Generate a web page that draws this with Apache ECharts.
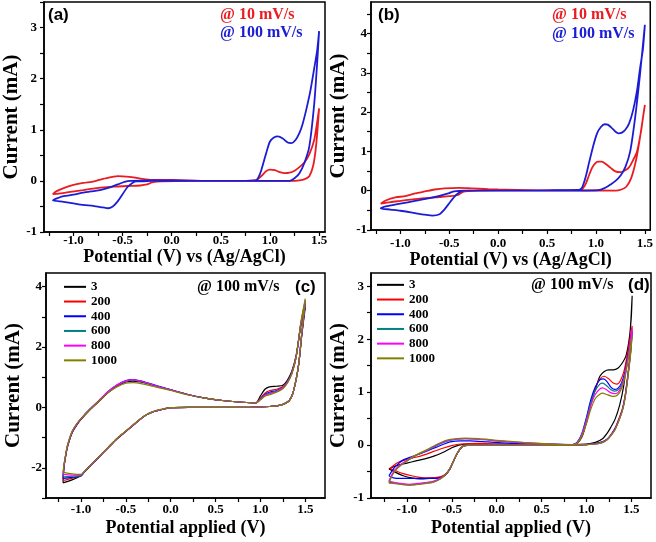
<!DOCTYPE html>
<html><head><meta charset="utf-8">
<script src="https://cdn.jsdelivr.net/npm/echarts@6/dist/echarts.min.js"></script>
<style>html,body{margin:0;padding:0;background:#fff}#c{width:656px;height:542px}</style>
</head><body><div id="c"></div>
<script>
// ---------- tick / label values ----------
const xTickVals = [-1.25,-1.0,-0.75,-0.5,-0.25,0.0,0.25,0.5,0.75,1.0,1.25,1.5];
const xLabelVals = [-1.0,-0.5,0.0,0.5,1.0,1.5];
const yTickA = [-1,-0.5,0,0.5,1,1.5,2,2.5,3,3.5];
const yLabelA = [-1,0,1,2,3];
const yTickB = [-1,-0.5,0,0.5,1,1.5,2,2.5,3,3.5,4,4.5];
const yLabelB = [-1,0,1,2,3,4];
const yTickC = [-3,-2,-1,0,1,2,3,4];
const yLabelC = [-2,0,2,4];
const yTickD = [-1,-0.5,0,0.5,1,1.5,2,2.5,3];
const yLabelD = [-1,0,1,2,3];

// ---------- series names ----------
const abNames = ['@ 10 mV/s','@ 100 mV/s'];
const cycleNames = ['3','200','400','600','800','1000'];

// ---------- panel (a) ----------
const aRed = [[0.0,0.02],[0.4,0.0],[0.8,0.0],[1.2,0.0],[1.3,0.01],[1.36,0.04],[1.4,0.09],[1.44,0.3],[1.47,0.7],[1.5,1.42],
 [1.48,1.15],[1.45,0.8],[1.4,0.52],[1.35,0.36],[1.3,0.27],[1.25,0.2],[1.2,0.16],[1.15,0.15],[1.1,0.17],[1.05,0.21],[1.0,0.22],[0.96,0.19],[0.92,0.11],[0.88,0.04],[0.85,0.01],[0.6,0.0],[0.2,0.0],[-0.1,-0.01],[-0.2,-0.03],[-0.25,-0.07],[-0.32,-0.09],[-0.45,-0.1],[-0.55,-0.11],[-0.66,-0.12],[-0.8,-0.15],[-0.9,-0.18],[-1.05,-0.22],[-1.15,-0.25],[-1.21,-0.26],
 [-1.18,-0.21],[-1.1,-0.14],[-1.0,-0.08],[-0.9,-0.04],[-0.79,-0.01],[-0.7,0.04],[-0.6,0.08],[-0.55,0.095],[-0.5,0.09],[-0.39,0.07],[-0.3,0.04],[-0.2,0.02],[-0.1,0.02],[0.0,0.02]];
const aBlue = [[0.0,0.01],[0.4,0.0],[0.8,0.0],[1.2,0.0],[1.25,0.05],[1.3,0.15],[1.35,0.35],[1.4,0.67],[1.45,1.5],[1.48,2.3],[1.5,2.93],
 [1.48,2.55],[1.45,2.2],[1.41,1.75],[1.37,1.4],[1.33,1.1],[1.3,0.94],[1.26,0.8],[1.22,0.74],[1.18,0.75],[1.13,0.83],[1.08,0.87],[1.04,0.85],[1.0,0.77],[0.97,0.6],[0.94,0.4],[0.91,0.2],[0.88,0.06],[0.86,0.01],[0.6,0.0],[0.2,0.0],[-0.2,0.0],[-0.3,-0.01],[-0.36,-0.01],[-0.4,-0.04],[-0.45,-0.12],[-0.5,-0.26],[-0.55,-0.4],[-0.6,-0.5],[-0.65,-0.535],[-0.7,-0.52],[-0.8,-0.49],[-0.9,-0.47],[-1.0,-0.44],[-1.1,-0.41],[-1.21,-0.38],
 [-1.15,-0.33],[-1.1,-0.3],[-1.0,-0.27],[-0.9,-0.23],[-0.8,-0.2],[-0.73,-0.18],[-0.62,-0.12],[-0.55,-0.07],[-0.48,-0.02],[-0.42,0.0],[-0.2,0.01],[0.0,0.01]];

// ---------- panel (b) ----------
const bRed = [[0.0,0.03],[0.4,0.01],[0.8,0.01],[1.2,0.0],[1.26,0.03],[1.31,0.1],[1.36,0.32],[1.41,0.78],[1.45,1.35],[1.5,2.18],
 [1.48,1.85],[1.46,1.5],[1.42,1.0],[1.38,0.78],[1.34,0.6],[1.3,0.52],[1.25,0.47],[1.2,0.49],[1.15,0.58],[1.1,0.68],[1.06,0.74],[1.02,0.74],[0.99,0.69],[0.96,0.58],[0.93,0.4],[0.9,0.2],[0.87,0.07],[0.84,0.02],[0.6,0.01],[0.2,0.01],[-0.2,0.0],[-0.3,-0.01],[-0.36,-0.03],[-0.41,-0.11],[-0.5,-0.14],[-0.6,-0.16],[-0.8,-0.2],[-1.0,-0.26],[-1.1,-0.29],[-1.2,-0.33],
 [-1.15,-0.25],[-1.05,-0.17],[-0.95,-0.14],[-0.85,-0.07],[-0.75,-0.02],[-0.65,0.03],[-0.55,0.06],[-0.4,0.07],[-0.28,0.06],[-0.1,0.04],[0.0,0.03]];
const bBlue = [[0.0,0.0],[0.5,0.0],[1.0,0.01],[1.05,0.03],[1.1,0.08],[1.15,0.16],[1.2,0.25],[1.25,0.38],[1.3,0.6],[1.35,1.0],[1.4,1.85],[1.45,2.95],[1.5,4.22],
 [1.48,3.6],[1.45,3.1],[1.42,2.55],[1.38,2.05],[1.34,1.72],[1.3,1.55],[1.26,1.47],[1.23,1.46],[1.2,1.5],[1.16,1.6],[1.12,1.68],[1.09,1.69],[1.05,1.62],[1.01,1.45],[0.97,1.12],[0.93,0.72],[0.9,0.4],[0.87,0.15],[0.85,0.05],[0.82,0.02],[0.5,0.01],[0.0,0.0],[-0.35,0.0],[-0.38,-0.02],[-0.43,-0.11],[-0.47,-0.22],[-0.5,-0.32],[-0.55,-0.48],[-0.6,-0.6],[-0.67,-0.635],[-0.75,-0.61],[-0.85,-0.57],[-1.0,-0.51],[-1.1,-0.48],[-1.2,-0.45],
 [-1.15,-0.4],[-1.0,-0.33],[-0.85,-0.26],[-0.7,-0.19],[-0.6,-0.13],[-0.5,-0.06],[-0.45,-0.02],[-0.35,0.0],[0.0,0.0]];

// ---------- panel (c) ----------
const c3 = [[-1.2,-2.5],[-1.19,-2.0],[-1.17,-1.6],[-1.15,-1.3],[-1.1,-0.85],[-1.05,-0.6],[-1.0,-0.4],[-0.9,-0.08],[-0.8,0.2],[-0.7,0.48],[-0.6,0.7],[-0.5,0.84],[-0.42,0.87],[-0.3,0.82],[-0.2,0.74],[-0.1,0.66],[0.0,0.58],[0.2,0.42],[0.4,0.3],[0.6,0.22],[0.8,0.17],[0.95,0.15],[1.0,0.38],[1.05,0.6],[1.1,0.68],[1.18,0.7],[1.25,0.73],[1.3,0.9],[1.35,1.2],[1.4,1.75],[1.45,2.7],[1.5,3.3],
 [1.48,2.85],[1.46,2.35],[1.43,1.5],[1.4,0.95],[1.36,0.45],[1.32,0.22],[1.26,0.11],[1.18,0.05],[1.1,0.03],[0.9,0.01],[0.5,0.0],[0.2,0.0],[0.0,-0.01],[-0.1,-0.07],[-0.2,-0.15],[-0.3,-0.3],[-0.4,-0.55],[-0.5,-0.8],[-0.6,-1.05],[-0.7,-1.35],[-0.8,-1.65],[-0.9,-1.95],[-0.97,-2.17],[-1.0,-2.26],[-1.1,-2.4],[-1.2,-2.5]];
const c200 = [[-1.2,-2.42],[-1.19,-1.98],[-1.17,-1.6],[-1.15,-1.3],[-1.1,-0.84],[-1.05,-0.59],[-1.0,-0.39],[-0.9,-0.07],[-0.8,0.21],[-0.7,0.5],[-0.6,0.72],[-0.5,0.87],[-0.42,0.9],[-0.3,0.84],[-0.2,0.75],[-0.1,0.66],[0.0,0.58],[0.2,0.42],[0.4,0.3],[0.6,0.22],[0.8,0.17],[0.95,0.15],[1.0,0.3],[1.05,0.47],[1.1,0.55],[1.18,0.6],[1.25,0.68],[1.3,0.85],[1.35,1.15],[1.4,1.72],[1.45,2.72],[1.5,3.4],
 [1.48,2.9],[1.46,2.38],[1.43,1.5],[1.4,0.95],[1.36,0.45],[1.32,0.22],[1.26,0.11],[1.18,0.05],[1.1,0.03],[0.9,0.01],[0.5,0.0],[0.2,0.0],[0.0,-0.01],[-0.1,-0.07],[-0.2,-0.15],[-0.3,-0.3],[-0.4,-0.54],[-0.5,-0.79],[-0.6,-1.04],[-0.7,-1.34],[-0.8,-1.64],[-0.9,-1.94],[-0.97,-2.16],[-1.0,-2.26],[-1.1,-2.35],[-1.2,-2.42]];
const c400 = [[-1.2,-2.35],[-1.19,-1.96],[-1.17,-1.58],[-1.15,-1.28],[-1.1,-0.83],[-1.05,-0.58],[-1.0,-0.38],[-0.9,-0.06],[-0.8,0.22],[-0.7,0.52],[-0.6,0.74],[-0.5,0.89],[-0.42,0.92],[-0.3,0.85],[-0.2,0.76],[-0.1,0.67],[0.0,0.58],[0.2,0.42],[0.4,0.3],[0.6,0.22],[0.8,0.17],[0.95,0.15],[1.0,0.28],[1.05,0.43],[1.1,0.5],[1.18,0.56],[1.25,0.66],[1.3,0.84],[1.35,1.14],[1.4,1.7],[1.45,2.74],[1.5,3.45],
 [1.48,2.92],[1.46,2.4],[1.43,1.5],[1.4,0.95],[1.36,0.45],[1.32,0.22],[1.26,0.11],[1.18,0.05],[1.1,0.03],[0.9,0.01],[0.5,0.0],[0.2,0.0],[0.0,-0.01],[-0.1,-0.07],[-0.2,-0.15],[-0.3,-0.3],[-0.4,-0.54],[-0.5,-0.79],[-0.6,-1.04],[-0.7,-1.34],[-0.8,-1.64],[-0.9,-1.94],[-0.97,-2.16],[-1.0,-2.27],[-1.1,-2.32],[-1.2,-2.35]];
const c600 = [[-1.2,-2.3],[-1.19,-1.95],[-1.17,-1.57],[-1.15,-1.27],[-1.1,-0.82],[-1.05,-0.57],[-1.0,-0.38],[-0.9,-0.06],[-0.8,0.22],[-0.7,0.51],[-0.6,0.73],[-0.5,0.87],[-0.42,0.9],[-0.3,0.84],[-0.2,0.75],[-0.1,0.66],[0.0,0.58],[0.2,0.42],[0.4,0.3],[0.6,0.22],[0.8,0.17],[0.95,0.15],[1.0,0.27],[1.05,0.41],[1.1,0.47],[1.18,0.54],[1.25,0.65],[1.3,0.83],[1.35,1.13],[1.4,1.7],[1.45,2.76],[1.5,3.5],
 [1.48,2.95],[1.46,2.42],[1.43,1.5],[1.4,0.95],[1.36,0.45],[1.32,0.22],[1.26,0.11],[1.18,0.05],[1.1,0.03],[0.9,0.01],[0.5,0.0],[0.2,0.0],[0.0,-0.01],[-0.1,-0.07],[-0.2,-0.15],[-0.3,-0.3],[-0.4,-0.54],[-0.5,-0.79],[-0.6,-1.04],[-0.7,-1.34],[-0.8,-1.64],[-0.9,-1.94],[-0.97,-2.16],[-1.0,-2.26],[-1.1,-2.28],[-1.2,-2.3]];
const c800 = [[-1.2,-2.22],[-1.19,-1.93],[-1.17,-1.56],[-1.15,-1.26],[-1.1,-0.81],[-1.05,-0.56],[-1.0,-0.37],[-0.9,-0.05],[-0.8,0.23],[-0.7,0.52],[-0.6,0.74],[-0.5,0.88],[-0.42,0.91],[-0.3,0.84],[-0.2,0.75],[-0.1,0.66],[0.0,0.58],[0.2,0.42],[0.4,0.3],[0.6,0.22],[0.8,0.17],[0.95,0.15],[1.0,0.26],[1.05,0.39],[1.1,0.45],[1.18,0.52],[1.25,0.64],[1.3,0.82],[1.35,1.12],[1.4,1.7],[1.45,2.78],[1.5,3.55],
 [1.48,2.98],[1.46,2.44],[1.43,1.5],[1.4,0.95],[1.36,0.45],[1.32,0.22],[1.26,0.11],[1.18,0.05],[1.1,0.03],[0.9,0.01],[0.5,0.0],[0.2,0.0],[0.0,-0.01],[-0.1,-0.07],[-0.2,-0.15],[-0.3,-0.3],[-0.4,-0.54],[-0.5,-0.79],[-0.6,-1.04],[-0.7,-1.34],[-0.8,-1.64],[-0.9,-1.94],[-0.97,-2.15],[-1.0,-2.24],[-1.1,-2.24],[-1.2,-2.22]];
const c1000 = [[-1.2,-2.15],[-1.19,-1.9],[-1.17,-1.54],[-1.15,-1.24],[-1.1,-0.8],[-1.05,-0.55],[-1.0,-0.37],[-0.9,-0.06],[-0.8,0.21],[-0.7,0.48],[-0.6,0.68],[-0.5,0.8],[-0.42,0.82],[-0.3,0.77],[-0.2,0.7],[-0.1,0.63],[0.0,0.56],[0.2,0.41],[0.4,0.3],[0.6,0.22],[0.8,0.17],[0.95,0.15],[1.0,0.25],[1.05,0.37],[1.1,0.42],[1.18,0.5],[1.25,0.62],[1.3,0.8],[1.35,1.1],[1.4,1.7],[1.45,2.8],[1.5,3.6],
 [1.48,3.0],[1.46,2.45],[1.43,1.5],[1.4,0.95],[1.36,0.45],[1.32,0.22],[1.26,0.11],[1.18,0.05],[1.1,0.03],[0.9,0.01],[0.5,0.0],[0.2,0.0],[0.0,-0.01],[-0.1,-0.06],[-0.2,-0.14],[-0.3,-0.29],[-0.4,-0.53],[-0.5,-0.78],[-0.6,-1.03],[-0.7,-1.33],[-0.8,-1.63],[-0.9,-1.93],[-0.97,-2.14],[-1.0,-2.22],[-1.1,-2.2],[-1.2,-2.15]];

// ---------- panel (d) ----------
const d3 = [[-1.2,-0.45],[-1.1,-0.38],[-1.0,-0.34],[-0.9,-0.3],[-0.8,-0.26],[-0.7,-0.21],[-0.6,-0.14],[-0.5,-0.05],[-0.42,0.0],[-0.3,0.02],[0.0,0.02],[0.4,0.01],[0.85,0.01],
 [0.9,0.04],[0.95,0.15],[1.0,0.42],[1.05,0.78],[1.1,1.05],[1.15,1.3],[1.2,1.39],[1.25,1.42],[1.3,1.42],[1.35,1.45],[1.4,1.55],[1.44,1.68],[1.47,1.92],[1.49,2.2],[1.51,2.82],
 [1.5,2.4],[1.47,1.86],[1.445,1.5],[1.415,1.11],[1.37,0.75],[1.32,0.49],[1.27,0.33],[1.23,0.22],[1.18,0.12],[1.1,0.05],[1.0,0.02],[0.6,0.0],[0.0,0.0],[-0.3,0.0],[-0.36,-0.01],[-0.4,-0.06],[-0.44,-0.16],[-0.48,-0.3],[-0.52,-0.45],[-0.57,-0.56],[-0.63,-0.61],[-0.75,-0.63],[-0.86,-0.64],[-0.95,-0.62],[-1.04,-0.58],[-1.12,-0.52],[-1.2,-0.45]];
const d200 = [[-1.19,-0.44],[-1.1,-0.33],[-1.0,-0.27],[-0.9,-0.23],[-0.8,-0.18],[-0.7,-0.12],[-0.6,-0.06],[-0.5,-0.01],[-0.4,0.02],[-0.2,0.03],[0.0,0.02],[0.4,0.01],[0.85,0.01],
 [0.9,0.05],[0.95,0.17],[1.0,0.44],[1.05,0.8],[1.1,1.08],[1.15,1.25],[1.2,1.3],[1.25,1.25],[1.3,1.17],[1.34,1.15],[1.38,1.22],[1.42,1.4],[1.46,1.75],[1.49,2.05],[1.51,2.25],
 [1.5,1.95],[1.49,1.74],[1.46,1.3],[1.43,0.92],[1.4,0.68],[1.36,0.49],[1.32,0.32],[1.27,0.19],[1.23,0.11],[1.18,0.06],[1.1,0.03],[1.0,0.01],[0.6,0.0],[0.0,0.0],[-0.3,0.0],[-0.36,-0.01],[-0.4,-0.06],[-0.44,-0.16],[-0.48,-0.3],[-0.52,-0.45],[-0.57,-0.55],[-0.63,-0.6],[-0.75,-0.62],[-0.86,-0.61],[-0.95,-0.58],[-1.04,-0.54],[-1.12,-0.49],[-1.19,-0.44]];
const d400 = [[-1.2,-0.58],[-1.15,-0.45],[-1.1,-0.36],[-1.04,-0.28],[-0.95,-0.22],[-0.86,-0.17],[-0.76,-0.1],[-0.67,-0.04],[-0.6,0.01],[-0.52,0.06],[-0.4,0.08],[-0.3,0.08],[-0.1,0.06],[0.2,0.03],[0.5,0.02],[0.85,0.01],
 [0.9,0.06],[0.95,0.22],[1.0,0.52],[1.05,0.86],[1.1,1.1],[1.15,1.23],[1.19,1.25],[1.23,1.2],[1.27,1.1],[1.31,1.05],[1.35,1.07],[1.39,1.17],[1.43,1.38],[1.47,1.75],[1.51,2.15],
 [1.5,1.92],[1.49,1.72],[1.46,1.28],[1.43,0.9],[1.4,0.66],[1.36,0.47],[1.32,0.31],[1.27,0.18],[1.23,0.11],[1.18,0.06],[1.1,0.03],[1.0,0.01],[0.6,0.0],[0.0,0.0],[-0.3,0.0],[-0.36,-0.01],[-0.4,-0.06],[-0.44,-0.16],[-0.48,-0.3],[-0.52,-0.45],[-0.57,-0.56],[-0.63,-0.62],[-0.75,-0.63],[-0.86,-0.63],[-0.97,-0.63],[-1.07,-0.63],[-1.15,-0.62],[-1.2,-0.58]];
const d600 = [[-1.2,-0.7],[-1.16,-0.55],[-1.1,-0.42],[-1.0,-0.3],[-0.9,-0.2],[-0.78,-0.11],[-0.67,-0.01],[-0.56,0.07],[-0.45,0.11],[-0.35,0.12],[-0.2,0.11],[0.0,0.08],[0.3,0.04],[0.6,0.02],[0.85,0.01],
 [0.9,0.05],[0.95,0.2],[1.0,0.48],[1.05,0.8],[1.1,1.03],[1.15,1.15],[1.18,1.17],[1.22,1.13],[1.27,1.05],[1.31,1.02],[1.35,1.04],[1.39,1.13],[1.43,1.33],[1.47,1.7],[1.51,2.1],
 [1.5,1.9],[1.49,1.7],[1.46,1.26],[1.43,0.88],[1.4,0.65],[1.36,0.46],[1.32,0.3],[1.27,0.18],[1.23,0.1],[1.18,0.05],[1.1,0.02],[1.0,0.01],[0.6,0.0],[0.0,0.0],[-0.3,0.0],[-0.36,-0.01],[-0.4,-0.06],[-0.44,-0.16],[-0.48,-0.3],[-0.52,-0.44],[-0.57,-0.56],[-0.62,-0.63],[-0.7,-0.69],[-0.8,-0.72],[-0.9,-0.74],[-0.97,-0.75],[-1.05,-0.74],[-1.13,-0.72],[-1.2,-0.7]];
const d800 = [[-1.2,-0.68],[-1.16,-0.54],[-1.1,-0.41],[-1.0,-0.29],[-0.9,-0.19],[-0.78,-0.1],[-0.67,0.0],[-0.56,0.08],[-0.45,0.11],[-0.35,0.12],[-0.2,0.11],[0.0,0.08],[0.3,0.04],[0.6,0.02],[0.85,0.01],
 [0.9,0.05],[0.95,0.19],[1.0,0.45],[1.05,0.75],[1.1,0.96],[1.15,1.06],[1.18,1.08],[1.22,1.05],[1.27,0.99],[1.31,0.97],[1.35,0.99],[1.39,1.1],[1.43,1.32],[1.47,1.72],[1.51,2.2],
 [1.5,1.93],[1.49,1.72],[1.46,1.27],[1.43,0.89],[1.4,0.65],[1.36,0.46],[1.32,0.3],[1.27,0.18],[1.23,0.1],[1.18,0.05],[1.1,0.02],[1.0,0.01],[0.6,0.0],[0.0,0.0],[-0.3,0.0],[-0.36,-0.01],[-0.4,-0.06],[-0.44,-0.16],[-0.48,-0.3],[-0.52,-0.44],[-0.57,-0.56],[-0.62,-0.62],[-0.7,-0.68],[-0.8,-0.71],[-0.9,-0.73],[-0.97,-0.74],[-1.05,-0.73],[-1.13,-0.71],[-1.2,-0.68]];
const d1000 = [[-1.2,-0.72],[-1.16,-0.56],[-1.1,-0.43],[-1.0,-0.3],[-0.9,-0.19],[-0.78,-0.09],[-0.67,0.01],[-0.56,0.09],[-0.45,0.12],[-0.35,0.13],[-0.2,0.12],[0.0,0.09],[0.3,0.05],[0.6,0.02],[0.85,0.01],
 [0.9,0.04],[0.95,0.17],[1.0,0.4],[1.05,0.68],[1.1,0.88],[1.15,0.96],[1.18,0.98],[1.22,0.96],[1.27,0.93],[1.31,0.92],[1.35,0.95],[1.39,1.06],[1.43,1.28],[1.47,1.65],[1.51,2.05],
 [1.5,1.85],[1.49,1.66],[1.46,1.24],[1.43,0.87],[1.4,0.64],[1.36,0.45],[1.32,0.29],[1.27,0.17],[1.23,0.1],[1.18,0.05],[1.1,0.02],[1.0,0.01],[0.6,0.0],[0.0,0.0],[-0.3,0.0],[-0.36,-0.01],[-0.4,-0.06],[-0.44,-0.16],[-0.48,-0.3],[-0.52,-0.44],[-0.57,-0.56],[-0.62,-0.63],[-0.7,-0.7],[-0.8,-0.73],[-0.9,-0.75],[-0.97,-0.76],[-1.05,-0.75],[-1.13,-0.73],[-1.2,-0.72]];

const abColors = ['#ea1c22','#1c1cd4'];
const cycleColors = ['#000000','#ff0000','#0000ff','#008080','#ff00ff','#808000'];

// ---------- build ----------
const SERIF = '"Liberation Serif","Times New Roman",serif';
const SANS = '"Liberation Sans",Arial,sans-serif';
const grids = [
  {left:43, top:2, width:282, height:230},
  {left:371, top:2, width:280, height:228},
  {left:46, top:273, width:279, height:225},
  {left:371, top:273, width:280, height:225}
];
const xRanges = [[-1.3,1.56],[-1.3,1.555],[-1.39,1.72],[-1.4,1.72]];
const yRanges = [[-1,3.5],[-1,4.8],[-3,4.45],[-1,3.25]];
const yTicks = [yTickA,yTickB,yTickC,yTickD];
const yLabels = [yLabelA,yLabelB,yLabelC,yLabelD];
const xNames = ['Potential (V) vs (Ag/AgCl)','Potential (V) vs (Ag/AgCl)','Potential applied (V)','Potential applied (V)'];
const xLabMargin = [2,7,5,5];
const yLabMargin = [7,4,4,7];
const xNameGap = [16,19,21,21];

const xAxis = [], yAxis = [];
for (let i=0;i<4;i++){
  xAxis.push({type:'value', gridIndex:i, min:xRanges[i][0], max:xRanges[i][1],
    axisLine:{show:true,onZero:false,lineStyle:{color:'#000',width:1.5}},
    axisTick:{show:true,inside:false,length:4,customValues:xTickVals,lineStyle:{color:'#000',width:1.2}},
    axisLabel:{customValues:xLabelVals,formatter:v=>Number(v).toFixed(1),color:'#000',fontFamily:SERIF,fontWeight:'bold',fontSize:13,margin:xLabMargin[i]},
    splitLine:{show:false},
    name:xNames[i], nameLocation:'middle', nameGap:xNameGap[i],
    nameTextStyle:{fontFamily:SERIF,fontWeight:'bold',fontSize:18,color:'#000'}});
  yAxis.push({type:'value', gridIndex:i, min:yRanges[i][0], max:yRanges[i][1],
    axisLine:{show:true,onZero:false,lineStyle:{color:'#000',width:1.5}},
    axisTick:{show:true,inside:false,length:4,customValues:yTicks[i],lineStyle:{color:'#000',width:1.2}},
    axisLabel:{customValues:yLabels[i],formatter:v=>String(v),color:'#000',fontFamily:SERIF,fontWeight:'bold',fontSize:13,margin:yLabMargin[i]},
    splitLine:{show:false},
    name:'Current (mA)', nameLocation:'middle', nameGap:22,
    nameTextStyle:{fontFamily:SERIF,fontWeight:'bold',fontSize:21,color:'#000'}});
}

const series = [];
function addLine(name, data, idx, color, width){
  series.push({type:'line', name:name, data:data, xAxisIndex:idx, yAxisIndex:idx,
    symbol:'none', showSymbol:false, smooth:0.25, clip:true,
    lineStyle:{color:color,width:width}, itemStyle:{color:color}});
}
addLine(abNames[0], aRed, 0, abColors[0], 1.8);
addLine(abNames[1], aBlue, 0, abColors[1], 1.8);
addLine(abNames[0], bRed, 1, abColors[0], 1.8);
addLine(abNames[1], bBlue, 1, abColors[1], 1.8);
const cData = [c3,c200,c400,c600,c800,c1000];
const dData = [d3,d200,d400,d600,d800,d1000];
for (let k=0;k<6;k++) addLine(cycleNames[k], cData[k], 2, cycleColors[k], 1.2);
for (let k=0;k<6;k++) addLine(cycleNames[k], dData[k], 3, cycleColors[k], 1.2);

function legendAt(left, top, w){
  return {data:cycleNames, orient:'vertical', left:left, top:top, itemWidth:w, itemHeight:2, itemGap:1,
    padding:0, selectedMode:false, icon:'rect',
    textStyle:{fontFamily:SERIF,fontWeight:'bold',fontSize:13,color:'#000',lineHeight:13.7}};
}

function txt(x,y,s,font,fill){
  return {type:'text', x:x, y:y, silent:true, style:{text:s, font:font, fill:fill, verticalAlign:'middle', align:'left'}};
}
const F1 = 'bold 16px ' + SERIF;
const FL = 'bold 17px ' + SANS;

const option = {
  animation:false,
  backgroundColor:'#fff',
  grid: grids.map(g=>Object.assign({show:true,borderColor:'#000',borderWidth:1.5,backgroundColor:'transparent',containLabel:false},g)),
  xAxis, yAxis, series,
  legend:[legendAt(64,280,22), legendAt(377,278,27)],
  graphic:[
    txt(48,15,'(a)',FL,'#000'),
    txt(220,15,abNames[0],F1,abColors[0]),
    txt(220,33,abNames[1],F1,abColors[1]),
    txt(378,15,'(b)',FL,'#000'),
    txt(552,15,abNames[0],F1,abColors[0]),
    txt(552,34,abNames[1],F1,abColors[1]),
    txt(197,287,'@ 100 mV/s',F1,'#000'),
    txt(295,287,'(c)',FL,'#000'),
    txt(531,285,'@ 100 mV/s',F1,'#000'),
    txt(628,285,'(d)',FL,'#000')
  ]
};
const chart = echarts.init(document.getElementById('c'), null, {renderer:'canvas'});
chart.setOption(option);
</script></body></html>
